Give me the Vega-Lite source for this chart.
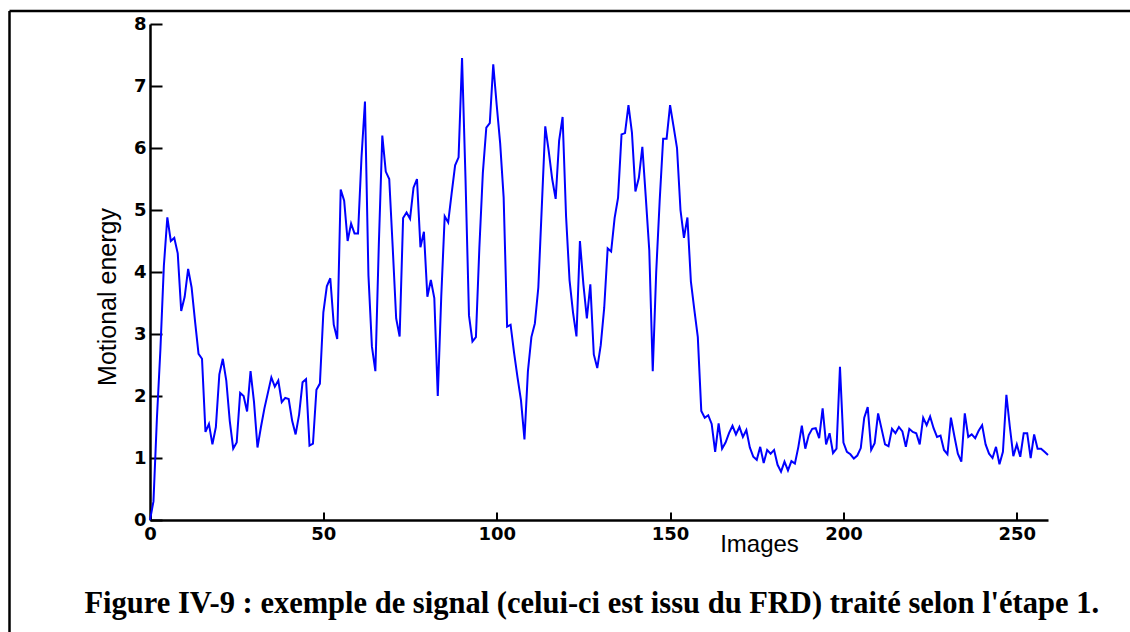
{
  "$schema": "https://vega.github.io/schema/vega-lite/v6.json",
  "autosize": {"type": "none"},
  "padding": {"left": 9.5, "top": 11, "right": 0, "bottom": 0},
  "width": 1120.5,
  "height": 621,
  "background": "white",
  "view": {"stroke": "black", "strokeWidth": 2.5, "strokeDash": [1120.5, 1741.5, 621, 0], "fill": null},
  "title": {
    "text": "Figure IV-9 : exemple de signal (celui-ci est issu du FRD) traité selon l'étape 1.",
    "orient": "bottom", "anchor": "middle", "frame": "group",
    "font": "Liberation Serif", "fontSize": 30.5, "fontWeight": "bold", "color": "black",
    "baseline": "alphabetic", "offset": 0, "dy": -19, "dx": 22
  },
  "data": {"values": [
    {"image":0,"energy":0.0},{"image":1,"energy":0.3},{"image":2,"energy":1.65},{"image":3,"energy":2.75},{"image":4,"energy":4.1},
    {"image":5,"energy":4.88},{"image":6,"energy":4.5},{"image":7,"energy":4.55},{"image":8,"energy":4.3},{"image":9,"energy":3.37},
    {"image":10,"energy":3.6},{"image":11,"energy":4.05},{"image":12,"energy":3.75},{"image":13,"energy":3.2},{"image":14,"energy":2.68},
    {"image":15,"energy":2.6},{"image":16,"energy":1.42},{"image":17,"energy":1.55},{"image":18,"energy":1.22},{"image":19,"energy":1.5},
    {"image":20,"energy":2.35},{"image":21,"energy":2.6},{"image":22,"energy":2.25},{"image":23,"energy":1.6},{"image":24,"energy":1.15},
    {"image":25,"energy":1.25},{"image":26,"energy":2.05},{"image":27,"energy":2.0},{"image":28,"energy":1.75},{"image":29,"energy":2.4},
    {"image":30,"energy":1.9},{"image":31,"energy":1.17},{"image":32,"energy":1.5},{"image":33,"energy":1.8},{"image":34,"energy":2.05},
    {"image":35,"energy":2.3},{"image":36,"energy":2.15},{"image":37,"energy":2.25},{"image":38,"energy":1.9},{"image":39,"energy":1.97},
    {"image":40,"energy":1.95},{"image":41,"energy":1.6},{"image":42,"energy":1.38},{"image":43,"energy":1.7},{"image":44,"energy":2.22},
    {"image":45,"energy":2.27},{"image":46,"energy":1.2},{"image":47,"energy":1.23},{"image":48,"energy":2.1},{"image":49,"energy":2.2},
    {"image":50,"energy":3.35},{"image":51,"energy":3.77},{"image":52,"energy":3.9},{"image":53,"energy":3.15},{"image":54,"energy":2.92},
    {"image":55,"energy":5.33},{"image":56,"energy":5.15},{"image":57,"energy":4.5},{"image":58,"energy":4.78},{"image":59,"energy":4.62},
    {"image":60,"energy":4.62},{"image":61,"energy":5.85},{"image":62,"energy":6.75},{"image":63,"energy":3.95},{"image":64,"energy":2.8},
    {"image":65,"energy":2.4},{"image":66,"energy":4.45},{"image":67,"energy":6.2},{"image":68,"energy":5.62},{"image":69,"energy":5.5},
    {"image":70,"energy":4.4},{"image":71,"energy":3.25},{"image":72,"energy":2.96},{"image":73,"energy":4.87},{"image":74,"energy":4.96},
    {"image":75,"energy":4.86},{"image":76,"energy":5.36},{"image":77,"energy":5.5},{"image":78,"energy":4.4},{"image":79,"energy":4.65},
    {"image":80,"energy":3.6},{"image":81,"energy":3.87},{"image":82,"energy":3.58},{"image":83,"energy":2.0},{"image":84,"energy":3.6},
    {"image":85,"energy":4.9},{"image":86,"energy":4.8},{"image":87,"energy":5.27},{"image":88,"energy":5.72},{"image":89,"energy":5.85},
    {"image":90,"energy":7.45},{"image":91,"energy":5.5},{"image":92,"energy":3.3},{"image":93,"energy":2.88},{"image":94,"energy":2.95},
    {"image":95,"energy":4.4},{"image":96,"energy":5.6},{"image":97,"energy":6.33},{"image":98,"energy":6.4},{"image":99,"energy":7.35},
    {"image":100,"energy":6.69},{"image":101,"energy":6.07},{"image":102,"energy":5.2},{"image":103,"energy":3.12},{"image":104,"energy":3.15},
    {"image":105,"energy":2.7},{"image":106,"energy":2.3},{"image":107,"energy":1.93},{"image":108,"energy":1.3},{"image":109,"energy":2.4},
    {"image":110,"energy":2.95},{"image":111,"energy":3.17},{"image":112,"energy":3.75},{"image":113,"energy":5.05},{"image":114,"energy":6.35},
    {"image":115,"energy":5.95},{"image":116,"energy":5.5},{"image":117,"energy":5.18},{"image":118,"energy":6.12},{"image":119,"energy":6.5},
    {"image":120,"energy":4.9},{"image":121,"energy":3.87},{"image":122,"energy":3.35},{"image":123,"energy":2.96},{"image":124,"energy":4.5},
    {"image":125,"energy":3.8},{"image":126,"energy":3.25},{"image":127,"energy":3.8},{"image":128,"energy":2.67},{"image":129,"energy":2.45},
    {"image":130,"energy":2.82},{"image":131,"energy":3.42},{"image":132,"energy":4.38},{"image":133,"energy":4.33},{"image":134,"energy":4.87},
    {"image":135,"energy":5.2},{"image":136,"energy":6.22},{"image":137,"energy":6.24},{"image":138,"energy":6.69},{"image":139,"energy":6.25},
    {"image":140,"energy":5.3},{"image":141,"energy":5.52},{"image":142,"energy":6.02},{"image":143,"energy":5.2},{"image":144,"energy":4.35},
    {"image":145,"energy":2.4},{"image":146,"energy":4.0},{"image":147,"energy":5.15},{"image":148,"energy":6.15},{"image":149,"energy":6.15},
    {"image":150,"energy":6.69},{"image":151,"energy":6.35},{"image":152,"energy":6.0},{"image":153,"energy":5.0},{"image":154,"energy":4.55},
    {"image":155,"energy":4.88},{"image":156,"energy":3.85},{"image":157,"energy":3.39},{"image":158,"energy":2.95},{"image":159,"energy":1.76},
    {"image":160,"energy":1.65},{"image":161,"energy":1.69},{"image":162,"energy":1.55},{"image":163,"energy":1.1},{"image":164,"energy":1.56},
    {"image":165,"energy":1.15},{"image":166,"energy":1.25},{"image":167,"energy":1.4},{"image":168,"energy":1.52},{"image":169,"energy":1.38},
    {"image":170,"energy":1.5},{"image":171,"energy":1.34},{"image":172,"energy":1.45},{"image":173,"energy":1.17},{"image":174,"energy":1.02},
    {"image":175,"energy":0.97},{"image":176,"energy":1.18},{"image":177,"energy":0.92},{"image":178,"energy":1.13},{"image":179,"energy":1.07},
    {"image":180,"energy":1.13},{"image":181,"energy":0.89},{"image":182,"energy":0.78},{"image":183,"energy":0.94},{"image":184,"energy":0.8},
    {"image":185,"energy":0.95},{"image":186,"energy":0.91},{"image":187,"energy":1.18},{"image":188,"energy":1.52},{"image":189,"energy":1.15},
    {"image":190,"energy":1.37},{"image":191,"energy":1.47},{"image":192,"energy":1.48},{"image":193,"energy":1.32},{"image":194,"energy":1.8},
    {"image":195,"energy":1.22},{"image":196,"energy":1.4},{"image":197,"energy":1.08},{"image":198,"energy":1.15},{"image":199,"energy":2.47},
    {"image":200,"energy":1.25},{"image":201,"energy":1.1},{"image":202,"energy":1.06},{"image":203,"energy":0.99},{"image":204,"energy":1.04},
    {"image":205,"energy":1.16},{"image":206,"energy":1.65},{"image":207,"energy":1.82},{"image":208,"energy":1.13},{"image":209,"energy":1.24},
    {"image":210,"energy":1.72},{"image":211,"energy":1.47},{"image":212,"energy":1.22},{"image":213,"energy":1.19},{"image":214,"energy":1.47},
    {"image":215,"energy":1.4},{"image":216,"energy":1.5},{"image":217,"energy":1.43},{"image":218,"energy":1.18},{"image":219,"energy":1.47},
    {"image":220,"energy":1.42},{"image":221,"energy":1.4},{"image":222,"energy":1.22},{"image":223,"energy":1.65},{"image":224,"energy":1.53},
    {"image":225,"energy":1.67},{"image":226,"energy":1.48},{"image":227,"energy":1.34},{"image":228,"energy":1.36},{"image":229,"energy":1.13},
    {"image":230,"energy":1.06},{"image":231,"energy":1.65},{"image":232,"energy":1.35},{"image":233,"energy":1.07},{"image":234,"energy":0.94},
    {"image":235,"energy":1.72},{"image":236,"energy":1.34},{"image":237,"energy":1.38},{"image":238,"energy":1.32},{"image":239,"energy":1.44},
    {"image":240,"energy":1.53},{"image":241,"energy":1.22},{"image":242,"energy":1.07},{"image":243,"energy":1.0},{"image":244,"energy":1.18},
    {"image":245,"energy":0.9},{"image":246,"energy":1.1},{"image":247,"energy":2.02},{"image":248,"energy":1.5},{"image":249,"energy":1.03},
    {"image":250,"energy":1.22},{"image":251,"energy":1.02},{"image":252,"energy":1.4},{"image":253,"energy":1.4},{"image":254,"energy":1.0},
    {"image":255,"energy":1.38},{"image":256,"energy":1.15},{"image":257,"energy":1.15},{"image":258,"energy":1.1},{"image":259,"energy":1.05}
  ]},
  "mark": {"type": "line", "color": "#0000ff", "strokeWidth": 2, "interpolate": "linear"},
  "encoding": {
    "x": {
      "field": "image", "type": "quantitative",
      "scale": {"domain": [0, 259], "range": [140.5, 1038.5], "nice": false, "zero": false},
      "axis": {
        "orient": "bottom", "offset": -112, "values": [0, 50, 100, 150, 200, 250],
        "grid": false, "domainColor": "black", "domainWidth": 2.5,
        "tickColor": "black", "tickWidth": 2, "tickSize": -8,
        "labelFont": "DejaVu Sans", "labelFontWeight": "bold", "labelFontSize": 18, "labelColor": "black",
        "labelPadding": 13, "labelFlush": false, "labelOverlap": false,
        "title": "Images", "titleFont": "Liberation Sans", "titleFontWeight": "normal", "titleFontSize": 24, "titleColor": "black",
        "titleX": 749.5, "titleY": 31, "titleAlign": "center", "titleBaseline": "alphabetic", "titleAngle": 0
      }
    },
    "y": {
      "field": "energy", "type": "quantitative",
      "scale": {"domain": [0, 8], "range": [509, 13], "nice": false, "zero": false},
      "axis": {
        "orient": "left", "offset": -140.5, "values": [0, 1, 2, 3, 4, 5, 6, 7, 8],
        "grid": false, "domainColor": "black", "domainWidth": 2.5,
        "tickColor": "black", "tickWidth": 2, "tickSize": -12,
        "labelFont": "DejaVu Sans", "labelFontWeight": "bold", "labelFontSize": 18, "labelColor": "black",
        "labelPadding": 16, "labelFlush": false, "labelOverlap": false,
        "title": "Motional energy", "titleFont": "Liberation Sans", "titleFontWeight": "normal", "titleFontSize": 25, "titleColor": "black",
        "titleX": -35, "titleY": 285.5, "titleAngle": -90, "titleAlign": "center", "titleBaseline": "alphabetic"
      }
    }
  }
}
